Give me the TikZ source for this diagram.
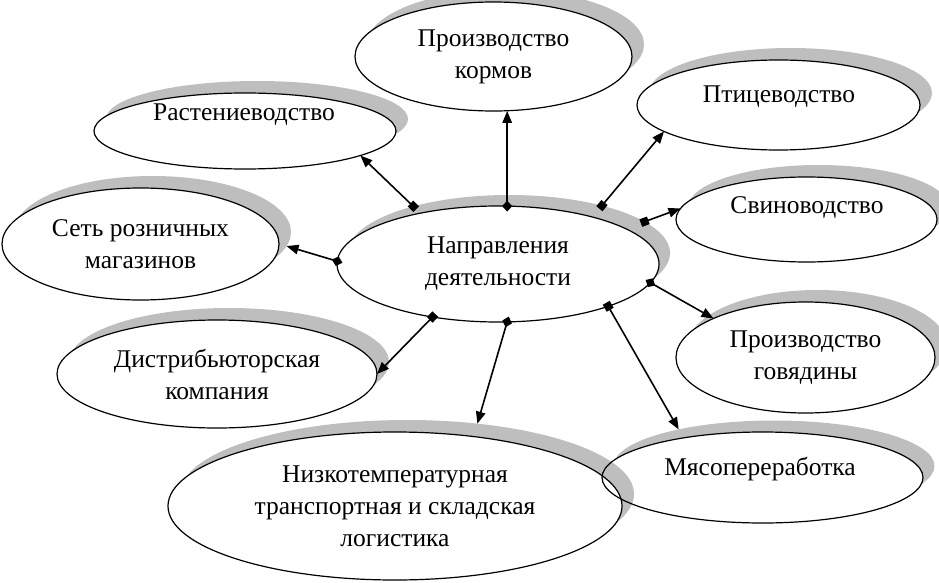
\documentclass[tikz,border=0pt]{standalone}
\usepackage{fontspec}
\setmainfont{Liberation Serif}
\usetikzlibrary{shapes.geometric,arrows.meta}
\definecolor{shadowgray}{RGB}{190,190,190}
\begin{document}
\begin{tikzpicture}[x=1pt,y=-1pt,
  txt/.style={font=\fontsize{25.5}{32}\selectfont},
  bub/.style={ellipse,draw,fill=white,line width=1.2pt,inner sep=0pt,outer sep=0pt,align=center,txt},
  shd/.style={ellipse,fill=shadowgray,inner sep=0pt,outer sep=0pt},
  blank/.style={ellipse,fill=white,inner sep=0pt,outer sep=0pt},
  lbl/.style={anchor=base,inner sep=0pt,txt},
  con/.style={line width=1.6pt},
  sq/.style={con,{Square[length=8pt,width=8pt]}-{Triangle[length=12pt,width=9.5pt]},shorten <=-4pt},
  dm/.style={con,{Diamond[length=11pt,width=10pt]}-{Triangle[length=12pt,width=9.5pt]},shorten <=-5.5pt}
]
\useasboundingbox (0,0) rectangle (939,583);

% Myaso shadow and fill (outline drawn later)
\node[shd,minimum width=321pt,minimum height=91pt] (myaso-s) at (774,466) {};
\node[blank,minimum width=321pt,minimum height=91pt] (myaso-f) at (762.5,477.5) {};

% Nizko
\node[shd,minimum width=454pt,minimum height=148pt] (nizko-s) at (407,494) {};
\node[bub,minimum width=454pt,minimum height=148pt] (nizko) at (395,506)
  {Низкотемпературная\\транспортная и складская\\логистика};

\node[bub,fill=none,minimum width=321pt,minimum height=91pt] (myaso) at (762.5,477.5) {};
\node[lbl] (myaso-t) at (760,475) {Мясопереработка};

% Kormov
\node[shd,minimum width=277pt,minimum height=109pt] (kormov-s) at (505.5,44.5) {};
\node[bub,minimum width=277pt,minimum height=109pt] (kormov) at (493.5,56.5)
  {Производство\\кормов};

% Rast
\node[shd,minimum width=302pt,minimum height=76pt] (rast-s) at (257,119) {};
\node[bub,minimum width=302pt,minimum height=76pt] (rast) at (245,131) {};
\node[lbl] (rast-t) at (244,121) {Растениеводство};

% Set
\node[shd,minimum width=277pt,minimum height=112pt] (set-s) at (152.5,232) {};
\node[bub,minimum width=277pt,minimum height=112pt] (set) at (140.5,244)
  {Сеть розничных\\магазинов};

% Distr
\node[shd,minimum width=320pt,minimum height=108pt] (distr-s) at (229,362) {};
\node[bub,minimum width=320pt,minimum height=108pt] (distr) at (217,374)
  {Дистрибьюторская\\компания};

% Ptits
\node[shd,minimum width=283pt,minimum height=90pt] (ptits-s) at (790.5,93) {};
\node[bub,minimum width=283pt,minimum height=90pt] (ptits) at (778.5,105) {};
\node[lbl] (ptits-t) at (779,102.7) {Птицеводство};

% Svin
\node[shd,minimum width=261pt,minimum height=85pt] (svin-s) at (818.5,207.5) {};
\node[bub,minimum width=261pt,minimum height=85pt] (svin) at (806.5,219.5) {};
\node[lbl] (svin-t) at (807,213) {Свиноводство};

% Govyad
\node[shd,minimum width=259pt,minimum height=111pt] (govyad-s) at (817.5,345.5) {};
\node[bub,minimum width=259pt,minimum height=111pt] (govyad) at (805.5,357.5)
  {Производство\\говядины};

% Center
\node[shd,minimum width=322pt,minimum height=116pt] (c-s) at (509,253) {};
\node[bub,minimum width=322pt,minimum height=116pt] (c) at (498,264)
  {Направления\\деятельности};

% Connectors
\draw[sq] (c-s.154) -- (rast.348);
\draw[dm] (c.81) -- (c.81 |- kormov.south);
\draw[sq] (c-s.27) -- (ptits.193);
\draw[sq] (c-s.13) -- (svin.175);
\draw[dm] (c.353) -- (govyad.157);
\draw[sq] (c.339) -- (myaso-s.159);
\draw[dm] (c.279) -- (nizko-s.45);
\draw[sq] (c.219) -- (distr.0);
\draw[dm] (c.179) -- (set-s.354);
\end{tikzpicture}
\end{document}
